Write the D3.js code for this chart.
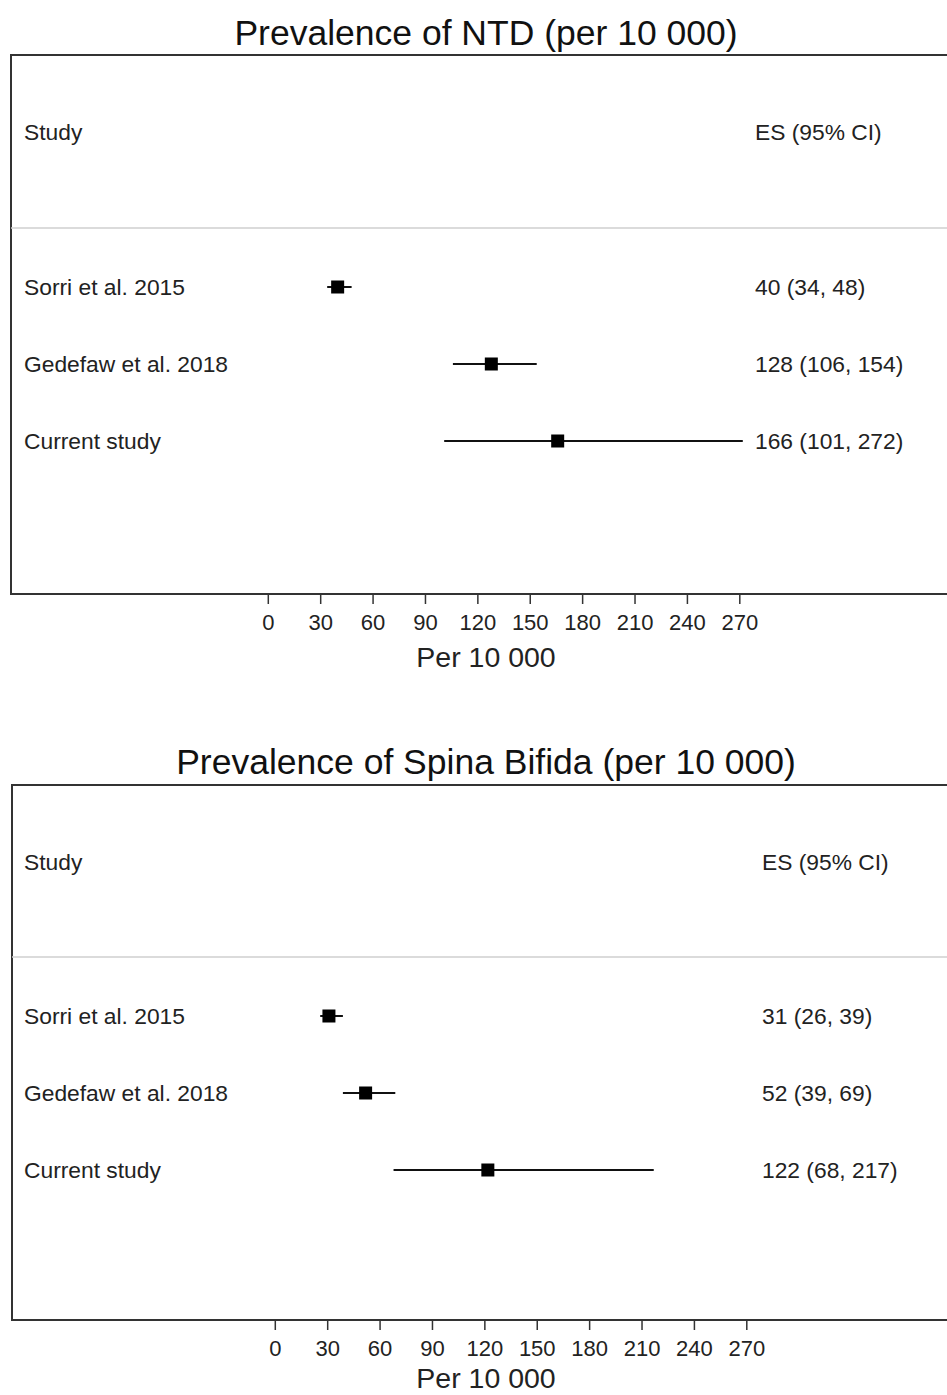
<!DOCTYPE html>
<html>
<head>
<meta charset="utf-8">
<script src="https://cdn.jsdelivr.net/npm/d3@7"></script>
<style>
  body { margin: 0; background: #fff; }
  svg.vis { display: block; font-family: "Liberation Sans", Arial, sans-serif; }
</style>
</head>
<body>
<svg class="vis" width="947" height="1395"></svg>
<script>
// data
const studies = ["Sorri et al. 2015", "Gedefaw et al. 2018", "Current study"];

const ntd_es = [40, 128, 166];
const ntd_lo = [34, 106, 101];
const ntd_hi = [48, 154, 272];

const sb_es = [31, 52, 122];
const sb_lo = [26, 39, 68];
const sb_hi = [39, 69, 217];

const tick_vals = [0, 30, 60, 90, 120, 150, 180, 210, 240, 270];

const titles = ["Prevalence of NTD (per 10 000)", "Prevalence of Spina Bifida (per 10 000)"];
const x_label = "Per 10 000";

const v = {

    elems : { svg : 'svg.vis' },

    // layout of the two panels
    panels : [
        { title : titles[0], es : ntd_es, lo : ntd_lo, hi : ntd_hi,
          titleY : 33, top : 55, bottom : 594, left : 11, sep : 228,
          headY : 132, row0 : 287, rowStep : 77, x0 : 267.8, esX : 755, axisTitleY : 657 },
        { title : titles[1], es : sb_es, lo : sb_lo, hi : sb_hi,
          titleY : 762, top : 785, bottom : 1320, left : 12, sep : 957,
          headY : 862, row0 : 1016, rowStep : 77, x0 : 274.8, esX : 762, axisTitleY : 1378 }
    ],

    draw : (p) => {

        const svg = d3.select(v.elems.svg);
        const g = svg.append('g');

        const x = d3.scaleLinear().domain([0, 270]).range([p.x0, p.x0 + 471.5]);
        const y = d3.scaleLinear().domain([0, studies.length - 1])
            .range([p.row0, p.row0 + p.rowStep * (studies.length - 1)]);

        g.append('text')
          .attr('x', 486).attr('y', p.titleY).attr('dy', '0.35em')
          .attr('text-anchor', 'middle')
          .style('font-size', '35.5px').style('fill', '#111')
          .text(p.title);

        // frame (right side runs off the page)
        g.append('path')
          .attr('d', `M960,${p.top}H${p.left}V${p.bottom}H960`)
          .attr('fill', 'none').attr('stroke', '#333').attr('stroke-width', 2);

        g.append('line')
          .attr('x1', p.left).attr('x2', 947)
          .attr('y1', p.sep).attr('y2', p.sep)
          .attr('stroke', '#cfcfcf').attr('stroke-width', 1.5);

        g.append('text').attr('x', 24).attr('y', p.headY).attr('dy', '0.35em')
          .style('font-size', '22.8px').style('fill', '#222').text('Study');
        g.append('text').attr('x', p.esX).attr('y', p.headY).attr('dy', '0.35em')
          .style('font-size', '22.8px').style('fill', '#222').text('ES (95% CI)');

        const rows = g.selectAll('g.row')
          .data(studies.map((s, i) => ({ s, i, es : p.es[i], lo : p.lo[i], hi : p.hi[i] })))
          .join('g').classed('row', true);

        rows.append('text').attr('x', 24).attr('y', d => y(d.i)).attr('dy', '0.35em')
          .style('font-size', '22.8px').style('fill', '#222').text(d => d.s);

        rows.append('text').attr('x', p.esX).attr('y', d => y(d.i)).attr('dy', '0.35em')
          .style('font-size', '22.8px').style('fill', '#222')
          .text(d => `${d.es} (${d.lo}, ${d.hi})`);

        rows.append('line')
          .attr('x1', d => x(d.lo)).attr('x2', d => x(d.hi))
          .attr('y1', d => y(d.i)).attr('y2', d => y(d.i))
          .attr('stroke', '#111').attr('stroke-width', 2);

        rows.append('rect')
          .attr('x', d => x(d.es) - 6.5).attr('y', d => y(d.i) - 6.5)
          .attr('width', 13).attr('height', 13).attr('fill', '#000');

        const ax = g.append('g')
          .attr('transform', `translate(0,${p.bottom})`)
          .call(d3.axisBottom(x).tickValues(tick_vals).tickSize(10).tickPadding(10).tickFormat(d3.format('d')));
        ax.select('.domain').remove();
        ax.selectAll('line').attr('stroke', '#333').attr('stroke-width', 1.5);
        ax.selectAll('text').style('font-size', '22px').style('font-family', '"Liberation Sans", Arial, sans-serif').attr('fill', '#222');

        g.append('text')
          .attr('x', 486).attr('y', p.axisTitleY).attr('dy', '0.35em')
          .attr('text-anchor', 'middle')
          .style('font-size', '28.5px').style('fill', '#222')
          .text(x_label);

    },

    init : () => {
        v.panels.forEach(p => v.draw(p));
    }

}

v.init();
</script>
</body>
</html>
